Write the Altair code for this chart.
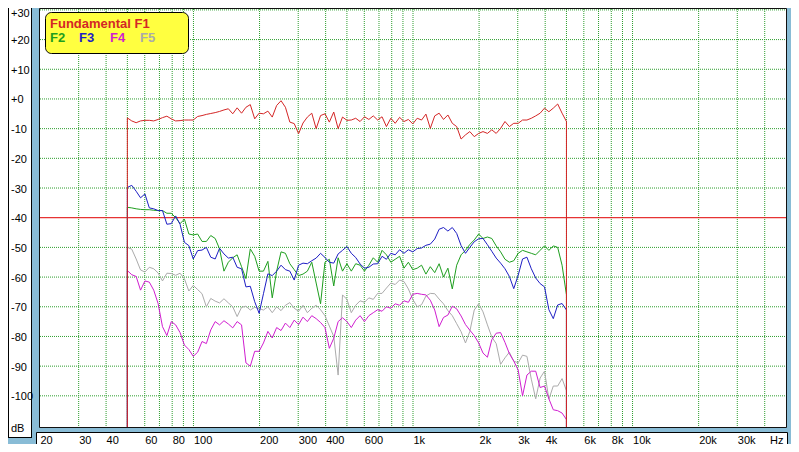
import altair as alt
import pandas as pd

# ---------------- data ----------------
FREQ = [50.0, 52.36, 54.83, 57.41, 60.12, 62.95, 65.92, 69.02, 72.27, 75.68,
        79.25, 82.98, 86.89, 90.99, 95.28, 99.77, 104.5, 109.4, 114.5, 119.9,
        125.6, 131.5, 137.7, 144.2, 151.0, 158.1, 165.6, 173.4, 181.5, 190.1,
        199.1, 208.4, 218.3, 228.5, 239.3, 250.6, 262.4, 274.8, 287.7, 301.3,
        315.5, 330.3, 345.9, 362.2, 379.3, 397.2, 415.9, 435.5, 456.0, 477.5,
        500.0, 523.6, 548.3, 574.1, 601.2, 629.5, 659.2, 690.2, 722.7, 756.8,
        792.5, 829.8, 868.9, 909.9, 952.8, 997.7, 1045, 1094, 1145, 1199,
        1256, 1315, 1377, 1442, 1510, 1581, 1656, 1734, 1815, 1901,
        1991, 2084, 2183, 2285, 2393, 2506, 2624, 2748, 2877, 3013,
        3155, 3303, 3459, 3622, 3793, 3972, 4159, 4355, 4560, 4775,
        5000]

F1 = [-6.4, -7.4, -8.0, -7.4, -7.2, -7.2, -7.4, -6.9, -6.3, -5.8,
      -6.7, -7.4, -7.3, -7.1, -7.1, -7.1, -5.9, -5.6, -5.2, -4.9,
      -4.6, -4.2, -3.7, -3.3, -5.0, -3.0, -4.8, -2.8, -1.9, -6.7,
      -4.8, -5.0, -4.1, -6.1, -2.2, -0.6, -2.8, -7.8, -8.3, -11.7,
      -8.1, -6.1, -4.8, -10.0, -5.6, -5.0, -7.8, -4.4, -10.0, -6.1,
      -7.2, -7.1, -6.5, -7.6, -6.0, -6.9, -5.7, -7.1, -6.0, -9.3,
      -6.5, -8.2, -6.2, -7.6, -6.9, -8.4, -6.5, -7.1, -5.1, -9.9,
      -5.7, -4.8, -6.9, -5.4, -8.2, -9.3, -13.5, -12.1, -11.0, -12.7,
      -11.6, -11.0, -11.6, -10.4, -11.6, -9.9, -7.6, -9.3, -8.2, -8.2,
      -7.1, -7.1, -6.5, -5.7, -4.8, -3.1, -4.3, -3.1, -1.7, -4.8,
      -7.6]

F2 = [-36.5, -36.7, -37.0, -37.2, -37.3, -37.3, -37.5, -37.6, -37.6, -38.5,
      -38.5, -40.0, -42.0, -40.5, -45.5, -45.8, -45.5, -48.0, -48.0, -46.0,
      -47.0, -50.5, -58.0, -55.0, -53.5, -52.5, -56.5, -60.5, -50.5, -53.0,
      -58.0, -58.0, -54.7, -67.0, -58.0, -51.5, -52.0, -55.5, -57.5, -59.5,
      -59.0, -58.0, -55.0, -62.0, -69.0, -55.0, -54.0, -63.0, -53.5, -58.0,
      -55.5, -58.0, -55.5, -56.0, -58.0, -56.0, -53.5, -55.0, -51.0, -52.5,
      -55.0, -54.0, -53.0, -57.0, -55.0, -57.5, -57.0, -56.0, -59.0, -56.5,
      -58.5, -55.5, -60.0, -57.0, -64.0, -56.0, -52.5, -51.0, -49.0, -47.5,
      -45.5, -47.0, -46.5, -47.0, -49.5, -51.5, -54.0, -55.0, -54.5, -52.0,
      -51.0, -51.5, -52.0, -52.5, -51.0, -49.5, -51.0, -49.5, -50.0, -56.0,
      -66.0]

F3 = [-29.8, -29.1, -31.1, -33.3, -32.0, -36.7, -37.0, -37.6, -37.6, -42.2,
      -42.0, -39.4, -42.2, -48.3, -49.4, -53.9, -51.1, -50.9, -50.0, -53.3,
      -53.9, -50.3, -52.2, -53.6, -53.3, -56.7, -57.2, -63.3, -63.1, -68.3,
      -72.2, -65.6, -58.9, -59.5, -58.0, -56.0, -57.5, -58.0, -61.0, -56.0,
      -55.3, -55.5, -54.5, -53.6, -52.0, -53.4, -55.0, -55.3, -52.2, -51.0,
      -49.7, -52.0, -53.4, -55.6, -57.0, -56.7, -55.6, -55.5, -53.0, -54.0,
      -52.0, -52.5, -50.8, -52.0, -50.8, -51.5, -50.4, -50.2, -49.3, -48.9,
      -47.2, -43.9, -43.3, -44.5, -43.3, -45.3, -49.4, -52.0, -50.0, -48.1,
      -47.1, -47.0, -49.1, -51.3, -53.6, -55.3, -57.2, -59.8, -63.9, -59.4,
      -53.9, -53.3, -57.2, -60.3, -62.2, -63.3, -71.0, -74.0, -69.4, -68.9,
      -71.1]

F4 = [-57.8, -59.2, -59.8, -64.4, -61.3, -61.7, -64.4, -68.9, -76.7, -79.7,
      -75.0, -76.1, -78.7, -82.9, -84.4, -86.7, -85.3, -81.7, -82.4, -77.8,
      -75.0, -76.1, -74.7, -75.8, -77.1, -75.0, -76.1, -88.9, -90.0, -85.0,
      -85.0, -82.2, -78.3, -80.5, -77.0, -78.0, -75.5, -77.0, -74.5, -76.0,
      -73.5, -75.0, -73.0, -74.0, -75.3, -77.0, -84.0, -80.6, -75.0, -73.7,
      -75.0, -77.0, -74.5, -73.0, -75.0, -73.0, -72.0, -71.0, -71.5, -70.0,
      -70.5, -69.0, -69.5, -68.0, -68.5, -65.8, -65.5, -65.8, -66.0, -67.8,
      -71.1, -76.7, -73.6, -72.8, -69.8, -70.7, -73.1, -76.0, -77.9, -79.7,
      -82.2, -85.6, -87.0, -81.1, -78.9, -78.7, -82.0, -85.8, -88.3, -91.3,
      -100.0, -93.0, -91.7, -91.7, -97.2, -96.7, -101.0, -104.7, -105.0, -105.8,
      -108.0]

F5 = [-50.0, -50.6, -53.9, -57.6, -58.3, -56.7, -57.2, -58.6, -61.3, -58.7,
      -58.8, -59.4, -58.7, -60.6, -64.7, -62.8, -64.2, -65.6, -70.0, -67.2,
      -68.1, -68.7, -67.3, -68.7, -70.0, -73.3, -70.2, -69.8, -71.1, -70.2,
      -70.6, -71.1, -70.0, -72.0, -70.0, -71.3, -69.5, -68.6, -70.5, -71.5,
      -69.5, -72.0, -70.5, -69.5, -71.0, -73.0, -76.5, -80.0, -93.0, -66.0,
      -67.5, -72.0, -69.5, -68.0, -68.5, -67.0, -67.5, -65.5, -65.5, -63.7,
      -62.0, -62.5, -61.0, -61.5, -64.0, -67.5, -70.0, -69.3, -66.4, -65.5,
      -65.6, -67.4, -69.0, -71.3, -73.0, -75.7, -78.4, -82.2, -78.3, -71.1,
      -69.0, -71.7, -76.1, -80.2, -82.4, -89.4, -87.2, -85.3, -88.3, -88.9,
      -86.3, -86.7, -94.4, -101.0, -94.0, -91.7, -101.1, -96.7, -96.7, -94.2,
      -98.3]

SERIES = ["F1", "F2", "F3", "F4", "F5"]
LEGEND_TEXT = ["Fundamental F1", "F2", "F3", "F4", "F5"]
COLORS = ["#D42626", "#1E9E1E", "#1E1EC4", "#D01ED0", "#ABABAB"]
DRAW_ORDER = ["F5", "F4", "F2", "F3", "F1"]
FLOOR_DB = -110.5          # bottom of the plot: the curves start/end with a drop to it
TOP_DB = 30.3
THRESHOLD_DB = [-40]

Y_TICKS = [-100, -90, -80, -70, -60, -50, -40, -30, -20, -10, 0, 10, 20, 30]
X_GRID = [30, 40, 50, 60, 70, 80, 90,
          100, 200, 300, 400, 500, 600, 700, 800, 900,
          1000, 2000, 3000, 4000, 5000, 6000, 7000, 8000, 9000,
          10000, 20000, 30000, 40000]
X_LABEL_VALUES = [20, 30, 40, 60, 80, 100, 200, 300, 400, 600,
                  1000, 2000, 3000, 4000, 6000, 8000, 10000, 20000, 30000]
X_LABEL_TEXT = ["20", "30", "40", "60", "80", "100", "200", "300", "400", "600",
                "1k", "2k", "3k", "4k", "6k", "8k", "10k", "20k", "30k"]

# ---------------- table ----------------
values = {"F1": F1, "F2": F2, "F3": F3, "F4": F4, "F5": F5}
rows = []
for name in DRAW_ORDER:
    vals = values[name]
    rows.append({"series": name, "freq": FREQ[0], "db": FLOOR_DB, "idx": 0})
    for k, (f, v) in enumerate(zip(FREQ, vals)):
        rows.append({"series": name, "freq": f, "db": v, "idx": k + 1})
    rows.append({"series": name, "freq": FREQ[-1], "db": FLOOR_DB, "idx": len(FREQ) + 1})
df = pd.DataFrame(rows)

# ---------------- layout / style ----------------
CW, CH = 783, 436                 # whole drawing (the page adds an 8px margin)
PX0, PX1 = 32, 778                # plot area, left/right
PY0, PY1 = 1, 419                 # plot area, top/bottom
BLUE = "rgb(137, 188, 214)"
GRID = "#2E9E2E"
FONT = "Liberation Sans"

x_label_expr = " : ".join(
    f"datum.value == {v} ? '{t}'" for v, t in zip(X_LABEL_VALUES, X_LABEL_TEXT)
) + " : ''"

xs = alt.Scale(type="log", domain=[20, 50000], nice=False, range=[PX0, PX1])
ys = alt.Scale(domain=[FLOOR_DB, TOP_DB], nice=False, zero=False, range=[PY1, PY0])

x_axis = alt.Axis(values=X_LABEL_VALUES, labelExpr=x_label_expr, labelAlign="left",
                  labelBaseline="alphabetic", labelPadding=-1, labelFlush=False,
                  labelOverlap=False, ticks=False, tickSize=0, domain=False,
                  grid=False, zindex=1,
                  title="Hz", titleX=775, titleY=-1, titleAlign="right",
                  titleBaseline="alphabetic", titleFontWeight="normal")
y_axis = alt.Axis(values=Y_TICKS,
                  labelExpr="(datum.value >= 0 ? '+' : '') + datum.value",
                  labelAlign="left", labelBaseline="middle", labelPadding=-2.5,
                  labelOffset={"condition": {"test": "datum.value == 30", "value": 4},
                               "value": 1},
                  labelFlush=False, labelOverlap=False, ticks=False, tickSize=0,
                  domain=False, grid=False, zindex=1,
                  title="dB", titleAngle=0, titleX=2.5,
                  titleY=420, titleAlign="left", titleBaseline="middle",
                  titleFontWeight="normal")

ONE = pd.DataFrame({"k": [0]})


def box(x1, x2, y1, y2, **kw):
    return alt.Chart(ONE).mark_rect(**kw).encode(
        x=alt.value(x1), x2=alt.value(x2), y=alt.value(y1), y2=alt.value(y2))


def vline(x, y1, y2, color="black", width=1):
    return alt.Chart(ONE).mark_rule(color=color, strokeWidth=width).encode(
        x=alt.value(x), y=alt.value(y1), y2=alt.value(y2))


def hline(y, x1, x2, color="black", width=1):
    return alt.Chart(ONE).mark_rule(color=color, strokeWidth=width).encode(
        y=alt.value(y), x=alt.value(x1), x2=alt.value(x2))


grid_y = [v for v in Y_TICKS if v not in THRESHOLD_DB]

layers = [
    # steel-blue frame, drawn as thick strokes in the gaps between the panels
    vline(28, 0, 436, color=BLUE, width=8),          # gap left of the plot
    vline(781, 0, 436, color=BLUE, width=5),          # right edge
    hline(422, 24, 783, color=BLUE, width=5),         # gap under the plot
    hline(433, 0, 28.5, color=BLUE, width=7),         # under the dB panel
    # white panel behind the dB labels (its top runs off the page)
    box(0.5, 23.5, 0, 429.5, fill="white", stroke="white", strokeWidth=0),
    vline(0.5, 0, 430), vline(23.5, 0, 430), hline(429.5, 0.5, 23.5),
    # white panel behind the Hz labels
    box(28.5, 779.5, 424.5, 445, fill="white", stroke="black", strokeWidth=1),
    # plot panel
    box(PX0 - 0.5, PX1 + 0.5, PY0 - 0.5, PY1 + 0.5, fill="white",
        stroke="#111111", strokeWidth=1),
    # dotted grid
    alt.Chart(pd.DataFrame({"g": X_GRID})).mark_rule(
        color=GRID, strokeWidth=1, strokeDash=[1, 1]).encode(
        x=alt.X("g:Q", scale=xs, axis=x_axis),
        y=alt.value(PY0), y2=alt.value(PY1)),
    alt.Chart(pd.DataFrame({"g": grid_y})).mark_rule(
        color=GRID, strokeWidth=1, strokeDash=[1, 1]).encode(
        y=alt.Y("g:Q", scale=ys, axis=y_axis),
        x=alt.value(PX0), x2=alt.value(PX1)),
    # -40 dB reference line
    alt.Chart(pd.DataFrame({"db": THRESHOLD_DB})).mark_rule(
        color="#E00000", strokeWidth=1).encode(
        y=alt.Y("db:Q", scale=ys, axis=y_axis),
        x=alt.value(PX0), x2=alt.value(PX1)),
]

for name in DRAW_ORDER:
    col = COLORS[SERIES.index(name)]
    layers.append(
        alt.Chart(df[df["series"] == name]).mark_line(
            color=col, strokeWidth=1).encode(
            x=alt.X("freq:Q", scale=xs, axis=x_axis),
            y=alt.Y("db:Q", scale=ys, axis=y_axis),
            order=alt.Order("idx:Q"))
    )

# legend box
layers.append(box(37.5, 180.5, 4.5, 45.5, fill="#FFFF40", stroke="black",
                  strokeWidth=1, cornerRadius=6))
legend_pos = [(42, 19.5), (42, 34), (71, 34), (102, 34), (132, 34)]
for k, (lx, ly) in enumerate(legend_pos):
    layers.append(
        alt.Chart(ONE).mark_text(text=LEGEND_TEXT[k], color=COLORS[k], font=FONT,
                                 fontSize=13, fontWeight="bold", align="left",
                                 baseline="alphabetic").encode(
            x=alt.value(lx), y=alt.value(ly))
    )

chart = alt.layer(*layers).properties(
    width=CW, height=CH, background="#89bcd6", padding=0,
    autosize=alt.AutoSizeParams(type="none"),
).configure_view(
    fill="#89bcd6", stroke="transparent", strokeWidth=0
).configure_axis(
    labelFont=FONT, titleFont=FONT, labelFontSize=11, titleFontSize=11,
    labelColor="black", titleColor="black"
)

chart.save("out.html", embed_options={"renderer": "svg", "actions": False})
